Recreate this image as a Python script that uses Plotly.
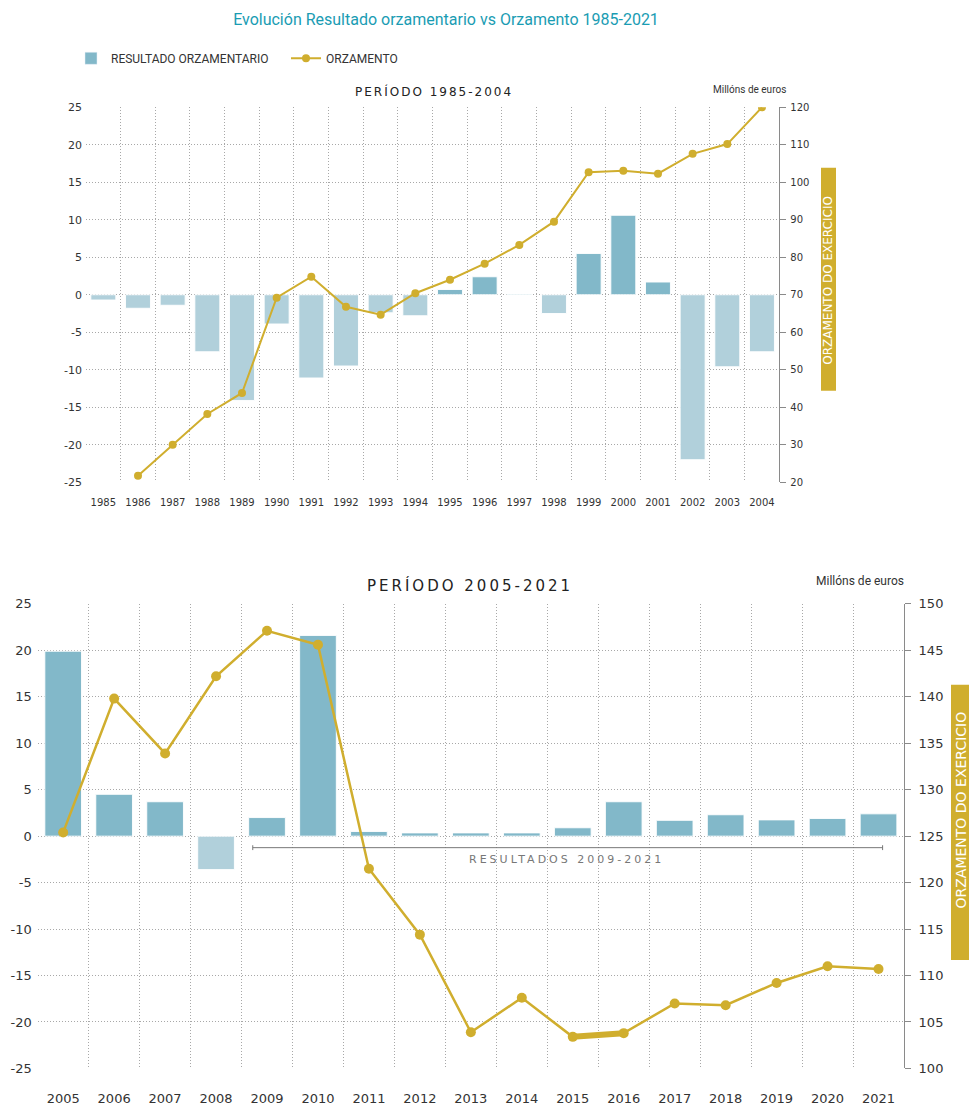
import plotly.graph_objects as go

# ---------------- data ----------------
years_1 = ["1985", "1986", "1987", "1988", "1989", "1990", "1991", "1992", "1993", "1994",
           "1995", "1996", "1997", "1998", "1999", "2000", "2001", "2002", "2003", "2004"]
resultado_1 = [-0.7, -1.8, -1.4, -7.6, -14.1, -3.9, -11.1, -9.5, -2.4, -2.8,
               0.7, 2.4, 0.1, -2.5, 5.5, 10.6, 1.7, -22.0, -9.6, -7.6]
orzamento_1 = [None, 21.7, 30.0, 38.2, 43.8, 69.2, 74.8, 66.8, 64.7, 70.4,
               74.0, 78.3, 83.3, 89.5, 102.7, 103.1, 102.3, 107.6, 110.2, 120.0]

years_2 = ["2005", "2006", "2007", "2008", "2009", "2010", "2011", "2012", "2013",
           "2014", "2015", "2016", "2017", "2018", "2019", "2020", "2021"]
resultado_2 = [19.9, 4.5, 3.7, -3.6, 2.0, 21.6, 0.5, 0.35, 0.35,
               0.35, 0.9, 3.7, 1.7, 2.3, 1.75, 1.9, 2.4]
orzamento_2 = [125.4, 139.8, 133.9, 142.2, 147.1, 145.6, 121.5, 114.4, 103.9,
               107.6, 103.4, 103.8, 107.0, 106.8, 109.2, 111.0, 110.7]

left_ticks = [-25, -20, -15, -10, -5, 0, 5, 10, 15, 20, 25]
left_ticktext = ["-25", "-20", "-15", "-10", "-5", "0", "5", "10", "15", "20", "25"]

# ---------------- styles ----------------
POS = "#82b8c9"
NEG = "#b1d0db"
GOLD = "#d0ae2e"
GRID = "#a8a8a8"
TXT = "#333333"
FONT = "DejaVu Sans, Verdana, sans-serif"
NARROW = "Liberation Sans Narrow, Arial Narrow, Roboto, sans-serif"

W, H = 969, 1110


def px_x(p):
    return p / W


def px_y(p):
    return 1 - p / H


def colors(vals):
    return [POS if v >= 0 else NEG for v in vals]


fig = go.Figure()

# legend-only entries
fig.add_trace(go.Bar(x=[None], y=[None], name="RESULTADO ORZAMENTARIO",
                     marker_color=POS, xaxis="x", yaxis="y", showlegend=True))
fig.add_trace(go.Scatter(x=[None], y=[None], name="ORZAMENTO", mode="lines+markers",
                         line=dict(color=GOLD, width=2), marker=dict(color=GOLD, size=8),
                         xaxis="x", yaxis="y3", showlegend=True))

# top chart
fig.add_trace(go.Bar(x=years_1, y=resultado_1, width=0.72,
                     marker=dict(color=colors(resultado_1), line=dict(color="rgba(255,255,255,0.9)", width=1)),
                     xaxis="x", yaxis="y", showlegend=False, name="Resultado"))
fig.add_trace(go.Scatter(x=years_1, y=orzamento_1, mode="lines+markers",
                         line=dict(color=GOLD, width=2), marker=dict(color=GOLD, size=8),
                         xaxis="x", yaxis="y3", showlegend=False, name="Orzamento"))

# bottom chart
fig.add_trace(go.Bar(x=years_2, y=resultado_2, width=0.72,
                     marker=dict(color=colors(resultado_2), line=dict(color="rgba(255,255,255,0.9)", width=1)),
                     xaxis="x2", yaxis="y2", showlegend=False, name="Resultado"))
fig.add_trace(go.Scatter(x=years_2, y=orzamento_2, mode="lines+markers",
                         line=dict(color=GOLD, width=2.5), marker=dict(color=GOLD, size=10),
                         xaxis="x2", yaxis="y4", showlegend=False, name="Orzamento"))
# thicker segment 2015-2016 as in the source
fig.add_trace(go.Scatter(x=years_2[10:12], y=orzamento_2[10:12], mode="lines",
                         line=dict(color=GOLD, width=6), hoverinfo="skip",
                         xaxis="x2", yaxis="y4", showlegend=False))

common_x = dict(type="category", showgrid=True, griddash="1px,2px", gridcolor=GRID, gridwidth=1,
                tickson="boundaries", ticks="", showline=False, zeroline=False, fixedrange=True)
common_y = dict(showgrid=True, griddash="1px,2px", gridcolor=GRID, gridwidth=1, zeroline=False,
                showline=False, ticks="", tickvals=left_ticks, ticktext=left_ticktext,
                range=[-25, 25], fixedrange=True)
right_y = dict(side="right", showgrid=False, showline=True, linecolor="#8a8a8a", linewidth=1,
               ticks="outside", tickcolor="#8a8a8a", ticklen=6, zeroline=False, fixedrange=True)

fig.update_layout(
    width=W, height=H,
    margin=dict(l=0, r=0, t=0, b=0),
    paper_bgcolor="white", plot_bgcolor="white",
    barmode="overlay",
    font=dict(family=FONT, color=TXT),
    title=dict(text="Evolución Resultado orzamentario vs Orzamento 1985-2021",
               x=px_x(446), xanchor="center", y=px_y(19), yanchor="middle",
               font=dict(family=NARROW, size=16, color="#1a9cb3")),
    legend=dict(orientation="h", x=px_x(71), xanchor="left", y=px_y(52), yanchor="middle",
                font=dict(family=NARROW, size=12, color=TXT),
                entrywidth=170, entrywidthmode="pixels", bgcolor="rgba(0,0,0,0)",
                itemclick=False, itemdoubleclick=False),
    xaxis=dict(domain=[px_x(86), px_x(779.3)], anchor="y", range=[-0.5, 19.5],
               tickfont=dict(size=10, color=TXT), ticklabelstandoff=13, **common_x),
    yaxis=dict(domain=[px_y(481.7), px_y(101.7)], anchor="x", ticklabelstandoff=3,
               tickfont=dict(size=11, color=TXT), **common_y),
    yaxis3=dict(overlaying="y", anchor="x", range=[20, 120], dtick=10, ticklabelstandoff=2,
                tickfont=dict(size=10, color=TXT), **right_y),
    xaxis2=dict(domain=[px_x(37.7), px_x(904)], anchor="y2", range=[-0.5, 16.5],
                tickfont=dict(size=13, color=TXT), ticklabelstandoff=21, **common_x),
    yaxis2=dict(domain=[px_y(1076), px_y(605)], anchor="x2", ticklabelstandoff=5,
                tickfont=dict(size=13, color=TXT), **common_y),
    yaxis4=dict(overlaying="y2", anchor="x2", range=[100, 150], dtick=5, ticklabelstandoff=5,
                tickfont=dict(size=13, color=TXT), **right_y),
)

shapes = [
    dict(type="rect", xref="paper", yref="paper", x0=px_x(821), x1=px_x(836),
         y0=px_y(389), y1=px_y(163), fillcolor=GOLD, line=dict(width=0), layer="above"),
    dict(type="rect", xref="paper", yref="paper", x0=px_x(951), x1=1.0,
         y0=px_y(966), y1=px_y(687), fillcolor=GOLD, line=dict(width=0), layer="above"),
    # RESULTADOS 2009-2021 bracket
    dict(type="line", xref="x2", yref="y2", x0=3.72, x1=16.08, y0=-1.24, y1=-1.24,
         line=dict(color="#777777", width=1)),
    dict(type="line", xref="x2", yref="y2", x0=3.72, x1=3.72, y0=-0.98, y1=-1.5,
         line=dict(color="#777777", width=1)),
    dict(type="line", xref="x2", yref="y2", x0=16.08, x1=16.08, y0=-0.98, y1=-1.5,
         line=dict(color="#777777", width=1)),
]

annotations = [
    dict(text='<span style="letter-spacing:2px">PERÍODO 1985-2004</span>', xref="paper", yref="paper",
         x=px_x(434), y=px_y(86), xanchor="center", yanchor="middle", showarrow=False,
         font=dict(family=FONT, size=12, color="#222222")),
    dict(text="Millóns de euros", xref="paper", yref="paper", x=px_x(749), y=px_y(84),
         xanchor="center", yanchor="middle", showarrow=False,
         font=dict(family=NARROW, size=10, color=TXT)),
    dict(text="ORZAMENTO DO EXERCICIO", xref="paper", yref="paper", x=px_x(828.5), y=px_y(277),
         xanchor="center", yanchor="middle", textangle=-90, showarrow=False,
         font=dict(family=FONT, size=12, color="white")),
    dict(text='<span style="letter-spacing:3px">PERÍODO 2005-2021</span>', xref="paper", yref="paper",
         x=px_x(470), y=px_y(586), xanchor="center", yanchor="middle", showarrow=False,
         font=dict(family=FONT, size=15, color="#222222")),
    dict(text="Millóns de euros", xref="paper", yref="paper", x=px_x(860), y=px_y(582),
         xanchor="center", yanchor="middle", showarrow=False,
         font=dict(family=NARROW, size=12, color=TXT)),
    dict(text="ORZAMENTO DO EXERCICIO", xref="paper", yref="paper", x=px_x(960.5), y=px_y(814),
         xanchor="center", yanchor="middle", textangle=-90, showarrow=False,
         font=dict(family=FONT, size=14, color="white")),
    dict(text='<span style="letter-spacing:3px">RESULTADOS 2009-2021</span>', xref="x2", yref="y2",
         x=9.87, y=-2.5, xanchor="center", yanchor="middle", showarrow=False,
         font=dict(family=FONT, size=11, color="#777777")),
]

fig.update_layout(shapes=shapes, annotations=annotations)

# remove the default 8px page margin so the 969x1110 figure fills the window exactly
fig.write_html("out.html",
               config={"displayModeBar": False, "staticPlot": True},
               post_script="document.body.style.margin='0px';"
                           "document.documentElement.style.overflow='hidden';")
